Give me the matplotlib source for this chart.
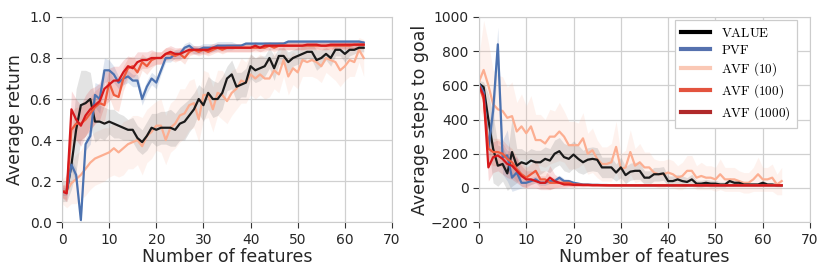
import numpy as np
import matplotlib.pyplot as plt
from matplotlib.lines import Line2D

plt.rcParams['mathtext.fontset'] = 'cm'

# --- data (x = 0..64 features) ---
features = np.arange(65)

ret_value = [0.15, 0.15, 0.28, 0.45, 0.57, 0.58, 0.60, 0.49, 0.49, 0.48,
             0.49, 0.48, 0.47, 0.46, 0.45, 0.45, 0.41, 0.39, 0.42, 0.46,
             0.45, 0.46, 0.46, 0.46, 0.45, 0.48, 0.49, 0.52, 0.55, 0.60,
             0.57, 0.63, 0.60, 0.60, 0.63, 0.70, 0.72, 0.66, 0.67, 0.68,
             0.76, 0.74, 0.75, 0.76, 0.80, 0.75, 0.81, 0.81, 0.78, 0.80,
             0.81, 0.82, 0.83, 0.83, 0.79, 0.80, 0.82, 0.80, 0.84, 0.84,
             0.82, 0.84, 0.84, 0.85, 0.85]
ret_value_sd = [0.05, 0.05, 0.12, 0.20, 0.17, 0.16, 0.13, 0.10, 0.08, 0.08,
                0.06, 0.07, 0.06, 0.06, 0.05, 0.06, 0.06, 0.06, 0.07, 0.07,
                0.08, 0.08, 0.08, 0.09, 0.08, 0.08, 0.09, 0.08, 0.08, 0.07,
                0.08, 0.08, 0.09, 0.08, 0.08, 0.06, 0.07, 0.07, 0.06, 0.07,
                0.06, 0.06, 0.06, 0.05, 0.05, 0.06, 0.04, 0.04, 0.05, 0.04,
                0.04, 0.04, 0.03, 0.04, 0.05, 0.04, 0.03, 0.04, 0.03, 0.03,
                0.04, 0.03, 0.02, 0.02, 0.02]

ret_pvf = [0.15, 0.15, 0.28, 0.23, 0.01, 0.38, 0.42, 0.62, 0.60, 0.74,
           0.74, 0.72, 0.68, 0.70, 0.71, 0.69, 0.69, 0.60, 0.66, 0.70,
           0.68, 0.74, 0.80, 0.80, 0.82, 0.82, 0.85, 0.86, 0.84, 0.84,
           0.85, 0.85, 0.85, 0.86, 0.86, 0.86, 0.86, 0.86, 0.86, 0.87,
           0.87, 0.87, 0.87, 0.87, 0.87, 0.87, 0.87, 0.87, 0.88, 0.88,
           0.88, 0.88, 0.88, 0.88, 0.88, 0.88, 0.88, 0.88, 0.88, 0.88,
           0.88, 0.88, 0.88, 0.88, 0.875]
ret_pvf_sd = [0.02, 0.02, 0.03, 0.03, 0.02, 0.03, 0.04, 0.06, 0.07, 0.06,
              0.05, 0.04, 0.03, 0.03, 0.03, 0.03, 0.03, 0.03, 0.03, 0.03,
              0.03, 0.02, 0.02, 0.02, 0.02, 0.02, 0.02, 0.02, 0.02, 0.02,
              0.02, 0.02, 0.02, 0.02, 0.02, 0.02, 0.02, 0.01, 0.01, 0.01,
              0.01, 0.01, 0.01, 0.01, 0.01, 0.01, 0.01, 0.01, 0.01, 0.01,
              0.01, 0.01, 0.01, 0.01, 0.01, 0.01, 0.01, 0.01, 0.01, 0.01,
              0.01, 0.01, 0.01, 0.01, 0.01]

ret_avf10 = [0.15, 0.15, 0.19, 0.21, 0.23, 0.26, 0.29, 0.31, 0.32, 0.33,
             0.34, 0.36, 0.34, 0.36, 0.38, 0.39, 0.40, 0.37, 0.42, 0.44,
             0.47, 0.47, 0.40, 0.46, 0.48, 0.52, 0.53, 0.57, 0.58, 0.50,
             0.62, 0.62, 0.55, 0.63, 0.62, 0.59, 0.63, 0.65, 0.69, 0.68,
             0.72, 0.70, 0.72, 0.70, 0.70, 0.74, 0.72, 0.79, 0.71, 0.75,
             0.73, 0.79, 0.78, 0.79, 0.78, 0.76, 0.80, 0.79, 0.78, 0.74,
             0.76, 0.79, 0.78, 0.84, 0.80]
ret_avf10_sd = [0.06, 0.08, 0.10, 0.12, 0.12, 0.13, 0.13, 0.13, 0.13, 0.13,
                0.12, 0.13, 0.12, 0.13, 0.12, 0.13, 0.12, 0.14, 0.13, 0.13,
                0.12, 0.13, 0.12, 0.12, 0.12, 0.13, 0.12, 0.12, 0.12, 0.11,
                0.12, 0.11, 0.11, 0.11, 0.12, 0.11, 0.11, 0.10, 0.11, 0.10,
                0.10, 0.10, 0.10, 0.10, 0.09, 0.09, 0.09, 0.08, 0.09, 0.08,
                0.08, 0.08, 0.07, 0.08, 0.08, 0.08, 0.07, 0.08, 0.09, 0.08,
                0.07, 0.08, 0.07, 0.06, 0.09]

ret_avf100 = [0.15, 0.15, 0.45, 0.48, 0.48, 0.50, 0.53, 0.56, 0.58, 0.57,
              0.68, 0.62, 0.61, 0.70, 0.75, 0.76, 0.73, 0.78, 0.76, 0.79,
              0.80, 0.80, 0.82, 0.82, 0.81, 0.82, 0.80, 0.83, 0.84, 0.83,
              0.84, 0.83, 0.84, 0.85, 0.84, 0.85, 0.85, 0.85, 0.85, 0.85,
              0.85, 0.85, 0.85, 0.85, 0.86, 0.85, 0.86, 0.86, 0.86, 0.86,
              0.86, 0.86, 0.86, 0.86, 0.86, 0.86, 0.86, 0.86, 0.86, 0.86,
              0.86, 0.86, 0.865, 0.865, 0.865]
ret_avf100_sd = [0.03, 0.04, 0.09, 0.08, 0.08, 0.08, 0.08, 0.08, 0.08, 0.08,
                 0.07, 0.07, 0.07, 0.06, 0.05, 0.05, 0.05, 0.04, 0.04, 0.04,
                 0.03, 0.03, 0.03, 0.03, 0.03, 0.03, 0.03, 0.02, 0.02, 0.02,
                 0.02, 0.02, 0.02, 0.02, 0.02, 0.02, 0.02, 0.02, 0.02, 0.02,
                 0.02, 0.02, 0.02, 0.02, 0.02, 0.02, 0.02, 0.02, 0.02, 0.02,
                 0.02, 0.02, 0.02, 0.02, 0.02, 0.02, 0.02, 0.02, 0.02, 0.02,
                 0.02, 0.02, 0.02, 0.02, 0.02]

ret_avf1000 = [0.15, 0.14, 0.55, 0.50, 0.47, 0.52, 0.55, 0.57, 0.59, 0.65,
               0.67, 0.69, 0.69, 0.73, 0.76, 0.75, 0.78, 0.79, 0.79, 0.80,
               0.80, 0.80, 0.82, 0.83, 0.82, 0.82, 0.83, 0.84, 0.84, 0.84,
               0.84, 0.84, 0.85, 0.85, 0.85, 0.85, 0.85, 0.85, 0.85, 0.85,
               0.85, 0.86, 0.85, 0.86, 0.86, 0.86, 0.86, 0.86, 0.86, 0.86,
               0.86, 0.86, 0.865, 0.865, 0.865, 0.86, 0.86, 0.865, 0.865, 0.865,
               0.865, 0.865, 0.865, 0.865, 0.865]
ret_avf1000_sd = [0.03, 0.04, 0.09, 0.10, 0.10, 0.10, 0.10, 0.09, 0.09, 0.08,
                  0.08, 0.07, 0.07, 0.06, 0.05, 0.05, 0.05, 0.04, 0.04, 0.04,
                  0.03, 0.03, 0.03, 0.03, 0.03, 0.03, 0.02, 0.02, 0.02, 0.02,
                  0.02, 0.02, 0.02, 0.02, 0.02, 0.02, 0.02, 0.02, 0.02, 0.02,
                  0.02, 0.02, 0.02, 0.02, 0.02, 0.02, 0.02, 0.02, 0.02, 0.02,
                  0.02, 0.02, 0.02, 0.02, 0.02, 0.02, 0.02, 0.02, 0.02, 0.02,
                  0.02, 0.02, 0.02, 0.02, 0.02]

steps_value = [610, 590, 400, 230, 130, 140, 85, 210, 130, 150,
               140, 160, 150, 150, 170, 160, 200, 215, 180, 170,
               195, 170, 150, 165, 170, 165, 120, 120, 120, 90,
               120, 75, 95, 100, 100, 60, 60, 80, 80, 85,
               40, 40, 50, 40, 35, 50, 25, 25, 30, 25,
               25, 20, 20, 40, 30, 30, 20, 20, 20, 20,
               30, 20, 20, 15, 15]
steps_value_sd = [20, 30, 150, 200, 120, 100, 100, 200, 100, 80,
                  70, 70, 70, 70, 70, 70, 80, 80, 80, 80,
                  80, 80, 70, 70, 70, 70, 60, 60, 60, 50,
                  60, 50, 50, 50, 50, 40, 40, 40, 40, 40,
                  30, 30, 30, 30, 25, 30, 20, 20, 20, 20,
                  20, 15, 15, 20, 15, 15, 10, 10, 10, 10,
                  15, 10, 10, 8, 8]

steps_pvf = [610, 560, 230, 450, 840, 180, 190, 60, 90, 30,
             30, 40, 50, 30, 30, 40, 40, 60, 40, 40,
             30, 25, 20, 20, 18, 18, 17, 17, 16, 16,
             16, 16, 16, 15, 15, 15, 15, 15, 15, 15,
             15, 15, 15, 15, 15, 15, 15, 15, 15, 15,
             15, 15, 15, 15, 15, 15, 15, 15, 15, 15,
             15, 15, 15, 15, 15]
steps_pvf_sd = [15, 30, 100, 100, 100, 100, 150, 80, 100, 30,
                20, 20, 20, 15, 15, 15, 15, 15, 15, 10,
                10, 8, 6, 5, 5, 5, 5, 5, 5, 5,
                5, 5, 5, 5, 5, 5, 5, 5, 5, 5,
                5, 5, 5, 5, 5, 5, 5, 5, 5, 5,
                5, 5, 5, 5, 5, 5, 5, 5, 5, 5,
                5, 5, 5, 5, 5]

steps_avf10 = [620, 690, 600, 490, 460, 450, 410, 420, 330, 360,
               320, 360, 280, 280, 260, 300, 300, 330, 300, 250,
               250, 250, 290, 200, 220, 170, 140, 140, 150, 240,
               110, 120, 210, 130, 150, 120, 120, 90, 80, 80,
               90, 80, 60, 70, 100, 100, 60, 70, 60, 60,
               50, 80, 50, 50, 50, 40, 30, 30, 50, 80,
               50, 50, 60, 20, 40]
steps_avf10_sd = [150, 290, 250, 200, 200, 200, 180, 200, 170, 190,
                  160, 180, 150, 150, 140, 160, 150, 170, 150, 140,
                  140, 130, 150, 120, 130, 110, 100, 100, 110, 150,
                  90, 100, 130, 100, 110, 90, 90, 80, 80, 80,
                  80, 80, 70, 80, 90, 90, 70, 80, 70, 70,
                  70, 90, 70, 70, 70, 60, 60, 60, 70, 100,
                  70, 70, 80, 60, 80]

steps_avf100 = [600, 520, 230, 210, 210, 200, 170, 150, 110, 80,
                60, 80, 100, 50, 50, 30, 30, 30, 30, 30,
                20, 20, 18, 18, 17, 17, 16, 16, 16, 15,
                15, 15, 15, 15, 15, 15, 15, 15, 15, 15,
                15, 15, 15, 15, 15, 15, 15, 15, 15, 15,
                15, 15, 15, 15, 15, 15, 15, 15, 15, 15,
                15, 15, 15, 15, 15]
steps_avf100_sd = [20, 40, 80, 80, 80, 80, 80, 80, 70, 70,
                   60, 60, 70, 50, 50, 40, 30, 25, 20, 20,
                   15, 12, 10, 10, 8, 8, 8, 6, 6, 6,
                   6, 6, 6, 5, 5, 5, 5, 5, 5, 5,
                   5, 5, 5, 5, 5, 5, 5, 5, 5, 5,
                   5, 5, 5, 5, 5, 5, 5, 5, 5, 5,
                   5, 5, 5, 5, 5]

steps_avf1000 = [600, 540, 120, 180, 190, 170, 140, 130, 100, 70,
                 50, 50, 40, 30, 30, 60, 40, 30, 20, 20,
                 18, 18, 17, 17, 16, 16, 16, 15, 15, 15,
                 15, 15, 15, 15, 15, 15, 15, 15, 15, 15,
                 15, 15, 15, 15, 15, 15, 15, 15, 15, 15,
                 15, 15, 15, 15, 15, 15, 15, 15, 15, 15,
                 15, 15, 15, 15, 15]
steps_avf1000_sd = [20, 40, 80, 90, 90, 90, 80, 80, 70, 60,
                    50, 50, 40, 40, 40, 70, 40, 30, 20, 15,
                    12, 10, 10, 8, 8, 8, 6, 6, 6, 5,
                    5, 5, 5, 5, 5, 5, 5, 5, 5, 5,
                    5, 5, 5, 5, 5, 5, 5, 5, 5, 5,
                    5, 5, 5, 5, 5, 5, 5, 5, 5, 5,
                    5, 5, 5, 5, 5]

labels = [r"$\mathrm{VALUE}$", r"$\mathrm{PVF}$", r"$\mathrm{AVF\ (10)}$",
          r"$\mathrm{AVF\ (100)}$", r"$\mathrm{AVF\ (1000)}$"]
line_colors = ["#1a1a1a", "#4c72b0", "#fcae91", "#f05a3c", "#d7191c"]
band_colors = ["#808080", "#4c72b0", "#fcae91", "#f05a3c", "#d7191c"]
band_alpha = [0.22, 0.18, 0.15, 0.15, 0.15]
legend_colors = ["#000000", "#5571ae", "#fac8b5", "#e3533e", "#b0292a"]

returns = [(ret_value, ret_value_sd), (ret_pvf, ret_pvf_sd),
           (ret_avf10, ret_avf10_sd), (ret_avf100, ret_avf100_sd),
           (ret_avf1000, ret_avf1000_sd)]
steps = [(steps_value, steps_value_sd), (steps_pvf, steps_pvf_sd),
         (steps_avf10, steps_avf10_sd), (steps_avf100, steps_avf100_sd),
         (steps_avf1000, steps_avf1000_sd)]

# draw order: light AVF(10) behind, then others
order = [2, 0, 1, 3, 4]


def draw_panel(ax, series):
    for i in order:
        m, s = np.array(series[i][0]), np.array(series[i][1])
        ax.fill_between(features, m - s, m + s, color=band_colors[i],
                        alpha=band_alpha[i], linewidth=0)
    for i in order:
        ax.plot(features, series[i][0], color=line_colors[i], linewidth=1.6)
    ax.set_xlim(0, 70)
    ax.set_xticks(range(0, 71, 10))
    ax.grid(True, color="#d0d0d0", linewidth=0.9)
    ax.set_axisbelow(True)
    for sp in ax.spines.values():
        sp.set_color("#cccccc")
    ax.tick_params(axis="both", direction="out", length=4, color="#333333",
                   labelsize=10, labelcolor="#262626")
    ax.set_xlabel("Number of features", fontsize=12.5, color="#262626", labelpad=1)


fig = plt.figure(figsize=(8.3, 2.78), dpi=100)
ax1 = fig.add_axes([0.0747, 0.201, 0.3976, 0.738])
ax2 = fig.add_axes([0.577, 0.201, 0.399, 0.738])

draw_panel(ax1, returns)
ax1.set_ylim(0, 1.0)
ax1.set_yticks(np.arange(0, 1.01, 0.2))
ax1.set_ylabel("Average return", fontsize=12.5, color="#262626", labelpad=4)

draw_panel(ax2, steps)
ax2.set_ylim(-200, 1000)
ax2.set_yticks(range(-200, 1001, 200))
ax2.set_ylabel("Average steps to goal", fontsize=12.5, color="#262626", labelpad=1)

handles = [Line2D([], [], color=c, linewidth=3) for c in legend_colors]
leg = ax2.legend(handles, labels, loc="upper right", fontsize=9.5,
                 fancybox=False, framealpha=1, edgecolor="#cccccc",
                 handlelength=2.2, handletextpad=0.8, borderpad=0.5,
                 labelspacing=0.3, borderaxespad=0,
                 bbox_to_anchor=(0.961, 0.985))
leg.get_frame().set_linewidth(0.9)

fig.savefig("out.png", dpi=100)
